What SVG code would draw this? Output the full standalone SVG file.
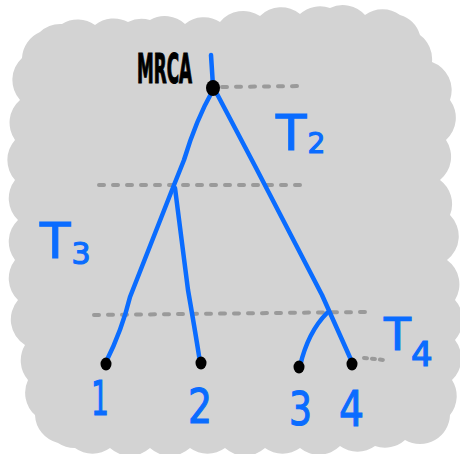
<svg xmlns="http://www.w3.org/2000/svg" width="460" height="454" viewBox="0 0 460 454">
<style>
.br{fill:none;stroke:#0a6cff;stroke-width:4.5;stroke-linecap:round;stroke-linejoin:round}
.dash{fill:none;stroke:#9a9a9a;stroke-width:4;stroke-linecap:round;stroke-dasharray:5 9}
.dot{fill:#000}
.lbl{fill:#0a6cff;stroke:#0a6cff;stroke-width:1.2;font-family:"DejaVu Sans","Liberation Sans",sans-serif}
</style>
<rect width="460" height="454" fill="#fff"/>
<g id="background">
<path fill="#d3d3d3" d="M22 58 A30 30 0 0 1 40 32 A30 30 0 0 1 62 24 A30 30 0 0 1 95 25 A30 30 0 0 1 128 22 A30 30 0 0 1 150 20 A30 30 0 0 1 185 24 A30 30 0 0 1 220 22 A30 30 0 0 1 260 16 A30 30 0 0 1 300 14 A30 30 0 0 1 330 8 A30 30 0 0 1 365 15 A30 30 0 0 1 400 15 A30 30 0 0 1 420 35 A30 30 0 0 1 432 62 A30 30 0 0 1 450 100 A30 30 0 0 1 446 140 A30 30 0 0 1 440 180 A30 30 0 0 1 450 215 A30 30 0 0 1 447 260 A30 30 0 0 1 455 300 A30 30 0 0 1 455 340 A30 30 0 0 1 452 380 A30 30 0 0 1 450 415 A30 30 0 0 1 435 440 A30 30 0 0 1 405 440 A30 30 0 0 1 375 446 A30 30 0 0 1 340 446 A30 30 0 0 1 300 448 A30 30 0 0 1 265 448 A30 30 0 0 1 225 448 A30 30 0 0 1 190 448 A30 30 0 0 1 150 448 A30 30 0 0 1 110 448 A30 30 0 0 1 75 448 A30 30 0 0 1 58 443 A30 30 0 0 1 35 415 A30 30 0 0 1 28 380 A30 30 0 0 1 25 345 A30 30 0 0 1 18 300 A30 30 0 0 1 15 260 A30 30 0 0 1 18 220 A30 30 0 0 1 15 180 A30 30 0 0 1 15 140 A30 30 0 0 1 20 100 A30 30 0 0 1 22 58 Z"/>
</g>
<g id="time-lines">
<path class="dash" d="M222 87 L305 86"/>
<path class="dash" d="M99 185 L305 185"/>
<path class="dash" d="M94 315 L365 312"/>
<path class="dash" d="M364 358 L384 360" style="stroke-dasharray:3 5"/>
</g>
<g id="connectors">
<path class="br" d="M211 55 L213 86"/>
<path class="br" d="M213 90 Q196 120 184 160 L174 185 L130 297 Q122 330 106 362"/>
<path class="br" d="M175 188 L188 290 Q195 330 200 362"/>
<path class="br" d="M216 92 Q236 130 255 166 L322 295 L352 362"/>
<path class="br" d="M327 313 Q308 332 300 366"/>
</g>
<g id="node-mrca">
<ellipse class="dot" cx="213" cy="88" rx="7" ry="8"/>
<text x="137" y="83" font-family="DejaVu Sans Condensed,DejaVu Sans,sans-serif" font-weight="bold" font-size="40" textLength="55" lengthAdjust="spacingAndGlyphs" fill="#000" stroke="#000" stroke-width="1.2">MRCA</text>
</g>
<g id="node-1">
<ellipse class="dot" cx="106" cy="364" rx="5.5" ry="6.5"/>
<text class="lbl" x="91" y="415" font-size="48" textLength="18" lengthAdjust="spacingAndGlyphs">1</text>
</g>
<g id="node-2">
<ellipse class="dot" cx="201" cy="363" rx="5.5" ry="6.5"/>
<text class="lbl" x="188" y="423" font-size="48" textLength="24" lengthAdjust="spacingAndGlyphs">2</text>
</g>
<g id="node-3">
<ellipse class="dot" cx="299" cy="367" rx="5.5" ry="6.5"/>
<text class="lbl" x="289" y="425" font-size="46" textLength="23" lengthAdjust="spacingAndGlyphs">3</text>
</g>
<g id="node-4">
<ellipse class="dot" cx="352" cy="364" rx="5.5" ry="6.5"/>
<text class="lbl" x="339" y="426" font-size="50" textLength="25" lengthAdjust="spacingAndGlyphs">4</text>
</g>
<g id="label-t2">
<text class="lbl" x="276" y="150" font-size="50">T<tspan font-size="28" dx="1" dy="3">2</tspan></text>
</g>
<g id="label-t3">
<text class="lbl" x="40" y="258" font-size="50">T<tspan font-size="30" dy="6" dx="1">3</tspan></text>
</g>
<g id="label-t4">
<text class="lbl" x="384" y="350" font-size="44">T<tspan font-size="34" dy="16" dx="0">4</tspan></text>
</g>
</svg>
